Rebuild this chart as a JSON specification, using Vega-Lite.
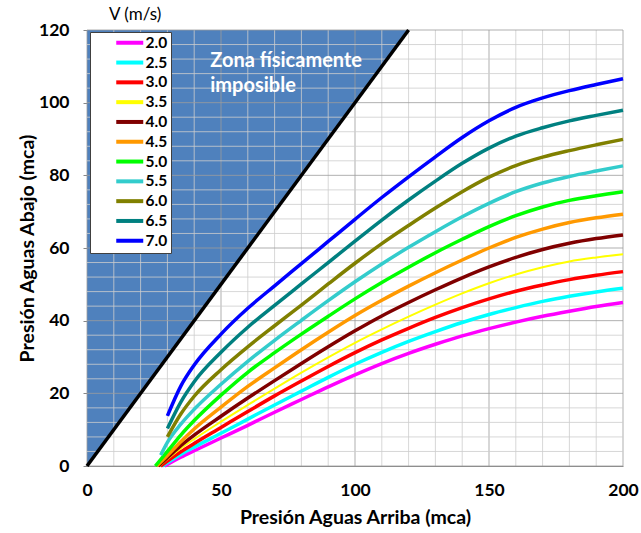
{
  "$schema": "https://vega.github.io/schema/vega-lite/v6.json",
  "width": 536,
  "height": 436,
  "autosize": "none",
  "padding": {"left": 87, "top": 30, "right": 18, "bottom": 67},
  "background": "white",
  "title": {"text": "V (m/s)", "anchor": "start", "frame": "group", "dx": 22, "offset": -3, "fontSize": 17, "font": "Lato", "fontWeight": "normal", "color": "#000000"},
  "config": {
    "view": {"stroke": null},
    "font": "Lato",
    "axis": {"labelFont": "Lato", "labelFontWeight": "bold", "labelFontSize": 17.5, "labelColor": "#000000", "labelFlush": false, "titleFont": "Lato", "titleFontWeight": "bold", "titleFontSize": 19.5, "titleColor": "#000000", "domainColor": "#868686", "tickColor": "#868686", "grid": false},
    "axisX": {"tickSize": 0, "labelPadding": 15, "titlePadding": 10},
    "axisY": {"tickSize": 4, "labelPadding": 14, "titlePadding": 1}
  },
  "datasets": {
    "diag": [{"x": 0, "y": 0}, {"x": 120, "y": 120}],
    "gx": [{"v":0},{"v":10},{"v":20},{"v":30},{"v":40},{"v":50},{"v":60},{"v":70},{"v":80},{"v":90},{"v":100},{"v":110},{"v":120},{"v":130},{"v":140},{"v":150},{"v":160},{"v":170},{"v":180},{"v":190},{"v":200}],
    "gy": [{"v":0},{"v":4},{"v":8},{"v":12},{"v":16},{"v":20},{"v":24},{"v":28},{"v":32},{"v":36},{"v":40},{"v":44},{"v":48},{"v":52},{"v":56},{"v":60},{"v":64},{"v":68},{"v":72},{"v":76},{"v":80},{"v":84},{"v":88},{"v":92},{"v":96},{"v":100},{"v":104},{"v":108},{"v":112},{"v":116},{"v":120}],
    "curves": [
      {"V":"2.0","x":29,"y":0},{"V":"2.0","x":35,"y":2.4},{"V":"2.0","x":40,"y":4.2},{"V":"2.0","x":50,"y":7.7},{"V":"2.0","x":60,"y":11.2},{"V":"2.0","x":70,"y":14.8},{"V":"2.0","x":80,"y":18.3},{"V":"2.0","x":90,"y":21.8},{"V":"2.0","x":100,"y":25.1},{"V":"2.0","x":110,"y":28.2},{"V":"2.0","x":120,"y":31},{"V":"2.0","x":130,"y":33.5},{"V":"2.0","x":140,"y":35.8},{"V":"2.0","x":150,"y":37.8},{"V":"2.0","x":160,"y":39.6},{"V":"2.0","x":170,"y":41.2},{"V":"2.0","x":180,"y":42.6},{"V":"2.0","x":190,"y":43.9},{"V":"2.0","x":200,"y":45},
      {"V":"2.5","x":28,"y":0},{"V":"2.5","x":35,"y":3.2},{"V":"2.5","x":40,"y":5.2},{"V":"2.5","x":50,"y":9},{"V":"2.5","x":60,"y":12.9},{"V":"2.5","x":70,"y":16.8},{"V":"2.5","x":80,"y":20.6},{"V":"2.5","x":90,"y":24.4},{"V":"2.5","x":100,"y":28},{"V":"2.5","x":110,"y":31.3},{"V":"2.5","x":120,"y":34.3},{"V":"2.5","x":130,"y":37},{"V":"2.5","x":140,"y":39.5},{"V":"2.5","x":150,"y":41.7},{"V":"2.5","x":160,"y":43.6},{"V":"2.5","x":170,"y":45.3},{"V":"2.5","x":180,"y":46.7},{"V":"2.5","x":190,"y":47.9},{"V":"2.5","x":200,"y":48.9},
      {"V":"3.0","x":27.5,"y":0},{"V":"3.0","x":35,"y":3.9},{"V":"3.0","x":40,"y":6.2},{"V":"3.0","x":50,"y":10.6},{"V":"3.0","x":60,"y":15},{"V":"3.0","x":70,"y":19.3},{"V":"3.0","x":80,"y":23.4},{"V":"3.0","x":90,"y":27.4},{"V":"3.0","x":100,"y":31.2},{"V":"3.0","x":110,"y":34.7},{"V":"3.0","x":120,"y":37.9},{"V":"3.0","x":130,"y":40.9},{"V":"3.0","x":140,"y":43.6},{"V":"3.0","x":150,"y":46},{"V":"3.0","x":160,"y":48.1},{"V":"3.0","x":170,"y":49.8},{"V":"3.0","x":180,"y":51.3},{"V":"3.0","x":190,"y":52.5},{"V":"3.0","x":200,"y":53.5},
      {"V":"3.5","x":27,"y":0},{"V":"3.5","x":35,"y":4.8},{"V":"3.5","x":40,"y":7.4},{"V":"3.5","x":50,"y":12.2},{"V":"3.5","x":60,"y":16.8},{"V":"3.5","x":70,"y":21.3},{"V":"3.5","x":80,"y":25.7},{"V":"3.5","x":90,"y":29.9},{"V":"3.5","x":100,"y":33.9},{"V":"3.5","x":110,"y":37.6},{"V":"3.5","x":120,"y":41.1},{"V":"3.5","x":130,"y":44.4},{"V":"3.5","x":140,"y":47.5},{"V":"3.5","x":150,"y":50.3},{"V":"3.5","x":160,"y":52.7},{"V":"3.5","x":170,"y":54.7},{"V":"3.5","x":180,"y":56.3},{"V":"3.5","x":190,"y":57.4},{"V":"3.5","x":200,"y":58.3},
      {"V":"4.0","x":26.5,"y":0},{"V":"4.0","x":30,"y":2.3},{"V":"4.0","x":35,"y":5.6},{"V":"4.0","x":40,"y":8.5},{"V":"4.0","x":50,"y":13.7},{"V":"4.0","x":60,"y":18.7},{"V":"4.0","x":70,"y":23.5},{"V":"4.0","x":80,"y":28.2},{"V":"4.0","x":90,"y":32.8},{"V":"4.0","x":100,"y":37.2},{"V":"4.0","x":110,"y":41.3},{"V":"4.0","x":120,"y":45},{"V":"4.0","x":130,"y":48.5},{"V":"4.0","x":140,"y":51.8},{"V":"4.0","x":150,"y":54.8},{"V":"4.0","x":160,"y":57.4},{"V":"4.0","x":170,"y":59.6},{"V":"4.0","x":180,"y":61.3},{"V":"4.0","x":190,"y":62.6},{"V":"4.0","x":200,"y":63.6},
      {"V":"4.5","x":26,"y":0},{"V":"4.5","x":30,"y":2.9},{"V":"4.5","x":35,"y":6.7},{"V":"4.5","x":40,"y":10.2},{"V":"4.5","x":50,"y":16.2},{"V":"4.5","x":60,"y":21.9},{"V":"4.5","x":70,"y":27},{"V":"4.5","x":80,"y":32},{"V":"4.5","x":90,"y":36.8},{"V":"4.5","x":100,"y":41.4},{"V":"4.5","x":110,"y":45.6},{"V":"4.5","x":120,"y":49.5},{"V":"4.5","x":130,"y":53.2},{"V":"4.5","x":140,"y":56.7},{"V":"4.5","x":150,"y":60},{"V":"4.5","x":160,"y":62.9},{"V":"4.5","x":170,"y":65.2},{"V":"4.5","x":180,"y":67},{"V":"4.5","x":190,"y":68.3},{"V":"4.5","x":200,"y":69.3},
      {"V":"5.0","x":25.5,"y":0},{"V":"5.0","x":30,"y":4},{"V":"5.0","x":35,"y":8.5},{"V":"5.0","x":40,"y":12.5},{"V":"5.0","x":50,"y":19.5},{"V":"5.0","x":60,"y":25.8},{"V":"5.0","x":70,"y":31.2},{"V":"5.0","x":80,"y":36.3},{"V":"5.0","x":90,"y":41.2},{"V":"5.0","x":100,"y":46},{"V":"5.0","x":110,"y":50.5},{"V":"5.0","x":120,"y":54.7},{"V":"5.0","x":130,"y":58.7},{"V":"5.0","x":140,"y":62.4},{"V":"5.0","x":150,"y":65.9},{"V":"5.0","x":160,"y":68.9},{"V":"5.0","x":170,"y":71.3},{"V":"5.0","x":180,"y":73.1},{"V":"5.0","x":190,"y":74.4},{"V":"5.0","x":200,"y":75.5},
      {"V":"5.5","x":27.5,"y":3},{"V":"5.5","x":30,"y":6.5},{"V":"5.5","x":35,"y":11.5},{"V":"5.5","x":40,"y":15.6},{"V":"5.5","x":50,"y":22.5},{"V":"5.5","x":60,"y":28.8},{"V":"5.5","x":70,"y":34.6},{"V":"5.5","x":80,"y":40.1},{"V":"5.5","x":90,"y":45.5},{"V":"5.5","x":100,"y":50.7},{"V":"5.5","x":110,"y":55.6},{"V":"5.5","x":120,"y":60.2},{"V":"5.5","x":130,"y":64.5},{"V":"5.5","x":140,"y":68.6},{"V":"5.5","x":150,"y":72.3},{"V":"5.5","x":160,"y":75.5},{"V":"5.5","x":170,"y":77.9},{"V":"5.5","x":180,"y":79.7},{"V":"5.5","x":190,"y":81.2},{"V":"5.5","x":200,"y":82.6},
      {"V":"6.0","x":30,"y":8},{"V":"6.0","x":35,"y":14.3},{"V":"6.0","x":40,"y":19.2},{"V":"6.0","x":50,"y":26.5},{"V":"6.0","x":60,"y":32.8},{"V":"6.0","x":70,"y":38.6},{"V":"6.0","x":80,"y":44.3},{"V":"6.0","x":90,"y":50.1},{"V":"6.0","x":100,"y":55.8},{"V":"6.0","x":110,"y":61.2},{"V":"6.0","x":120,"y":66.2},{"V":"6.0","x":130,"y":71},{"V":"6.0","x":140,"y":75.5},{"V":"6.0","x":150,"y":79.5},{"V":"6.0","x":160,"y":82.7},{"V":"6.0","x":170,"y":85},{"V":"6.0","x":180,"y":86.8},{"V":"6.0","x":190,"y":88.4},{"V":"6.0","x":200,"y":89.9},
      {"V":"6.5","x":30,"y":10.3},{"V":"6.5","x":35,"y":17.6},{"V":"6.5","x":40,"y":23.2},{"V":"6.5","x":50,"y":31.3},{"V":"6.5","x":60,"y":38.2},{"V":"6.5","x":70,"y":44.2},{"V":"6.5","x":80,"y":50.1},{"V":"6.5","x":90,"y":56},{"V":"6.5","x":100,"y":61.9},{"V":"6.5","x":110,"y":67.7},{"V":"6.5","x":120,"y":73.2},{"V":"6.5","x":130,"y":78.4},{"V":"6.5","x":140,"y":83.3},{"V":"6.5","x":150,"y":87.5},{"V":"6.5","x":160,"y":90.8},{"V":"6.5","x":170,"y":93.1},{"V":"6.5","x":180,"y":95},{"V":"6.5","x":190,"y":96.5},{"V":"6.5","x":200,"y":97.9},
      {"V":"7.0","x":30,"y":13.8},{"V":"7.0","x":35,"y":22},{"V":"7.0","x":40,"y":27.8},{"V":"7.0","x":50,"y":36.3},{"V":"7.0","x":60,"y":43.4},{"V":"7.0","x":70,"y":49.6},{"V":"7.0","x":80,"y":55.7},{"V":"7.0","x":90,"y":61.8},{"V":"7.0","x":100,"y":67.9},{"V":"7.0","x":110,"y":73.9},{"V":"7.0","x":120,"y":79.6},{"V":"7.0","x":130,"y":85.1},{"V":"7.0","x":140,"y":90.4},{"V":"7.0","x":150,"y":95},{"V":"7.0","x":160,"y":98.7},{"V":"7.0","x":170,"y":101.3},{"V":"7.0","x":180,"y":103.3},{"V":"7.0","x":190,"y":105},{"V":"7.0","x":200,"y":106.6}
    ]
  },
  "layer": [
    {
      "data": {"name": "diag"},
      "mark": {"type": "area", "color": "#4F81BD", "opacity": 1},
      "encoding": {
        "x": {"field": "x", "type": "quantitative", "scale": {"domain": [0, 200], "nice": false}, "axis": {"title": "Presión Aguas Arriba (mca)", "values": [0, 50, 100, 150, 200]}},
        "y": {"field": "y", "type": "quantitative", "scale": {"domain": [0, 120], "nice": false}, "axis": {"title": "Presión Aguas Abajo (mca)", "values": [0, 20, 40, 60, 80, 100, 120]}},
        "y2": {"datum": 120}
      }
    },
    {
      "data": {"name": "gx"},
      "mark": {"type": "rule", "strokeWidth": 1, "opacity": 0.8},
      "encoding": {
        "x": {"field": "v", "type": "quantitative", "axis": {"title": "Presión Aguas Arriba (mca)", "values": [0, 50, 100, 150, 200]}},
        "color": {"condition": {"test": "datum.v % 50 === 0", "value": "#9c9c9c"}, "value": "#cdcdcd"}
      }
    },
    {
      "data": {"name": "gy"},
      "mark": {"type": "rule", "strokeWidth": 1, "opacity": 0.8},
      "encoding": {
        "y": {"field": "v", "type": "quantitative", "axis": {"title": "Presión Aguas Abajo (mca)", "values": [0, 20, 40, 60, 80, 100, 120]}},
        "color": {"condition": {"test": "datum.v % 20 === 0", "value": "#9c9c9c"}, "value": "#cdcdcd"}
      }
    },
    {
      "data": {"name": "diag"},
      "mark": {"type": "line", "color": "#000000", "strokeWidth": 3.5},
      "encoding": {
        "x": {"field": "x", "type": "quantitative", "axis": {"title": "Presión Aguas Arriba (mca)", "values": [0, 50, 100, 150, 200]}},
        "y": {"field": "y", "type": "quantitative", "axis": {"title": "Presión Aguas Abajo (mca)", "values": [0, 20, 40, 60, 80, 100, 120]}}
      }
    },
    {
      "data": {"name": "curves"},
      "mark": {"type": "line", "interpolate": "monotone", "strokeCap": "butt"},
      "encoding": {
        "x": {"field": "x", "type": "quantitative", "axis": {"title": "Presión Aguas Arriba (mca)", "values": [0, 50, 100, 150, 200]}},
        "y": {"field": "y", "type": "quantitative", "axis": {"title": "Presión Aguas Abajo (mca)", "values": [0, 20, 40, 60, 80, 100, 120]}},
        "color": {
          "field": "V", "type": "nominal",
          "scale": {
            "domain": ["2.0", "2.5", "3.0", "3.5", "4.0", "4.5", "5.0", "5.5", "6.0", "6.5", "7.0"],
            "range": ["#FF00FF", "#00FFFF", "#FF0000", "#FFFF00", "#800000", "#FF9900", "#00FF00", "#33CCCC", "#808000", "#008080", "#0000FF"]
          },
          "legend": {
            "orient": "none", "legendX": 3, "legendY": 2, "title": null,
            "symbolType": "M-2.7,0H2.7", "symbolSize": 100, "symbolStrokeWidth": 4,
            "labelFont": "Lato", "labelFontSize": 15.5, "labelFontWeight": "bold", "labelColor": "#000000",
            "labelOffset": 8, "rowPadding": 1.8, "symbolOffset": 29, "padding": 3,
            "fillColor": "#FFFFFF", "strokeColor": "#404040",
            "labelExpr": "datum.label + '\u00a0\u00a0\u00a0\u00a0\u00a0\u00a0\u00a0'"
          }
        },
        "strokeWidth": {"condition": {"test": "datum.V === '3.5'", "value": 2}, "value": 3.5}
      }
    },
    {
      "data": {"values": [{}]},
      "mark": {"type": "text", "text": ["Zona físicamente", "imposible"], "align": "left", "baseline": "middle", "lineHeight": 25, "font": "Lato", "fontSize": 20, "fontWeight": "bold", "color": "#FFFFFF"},
      "encoding": {
        "x": {"datum": 46},
        "y": {"datum": 111.4}
      }
    }
  ]
}
